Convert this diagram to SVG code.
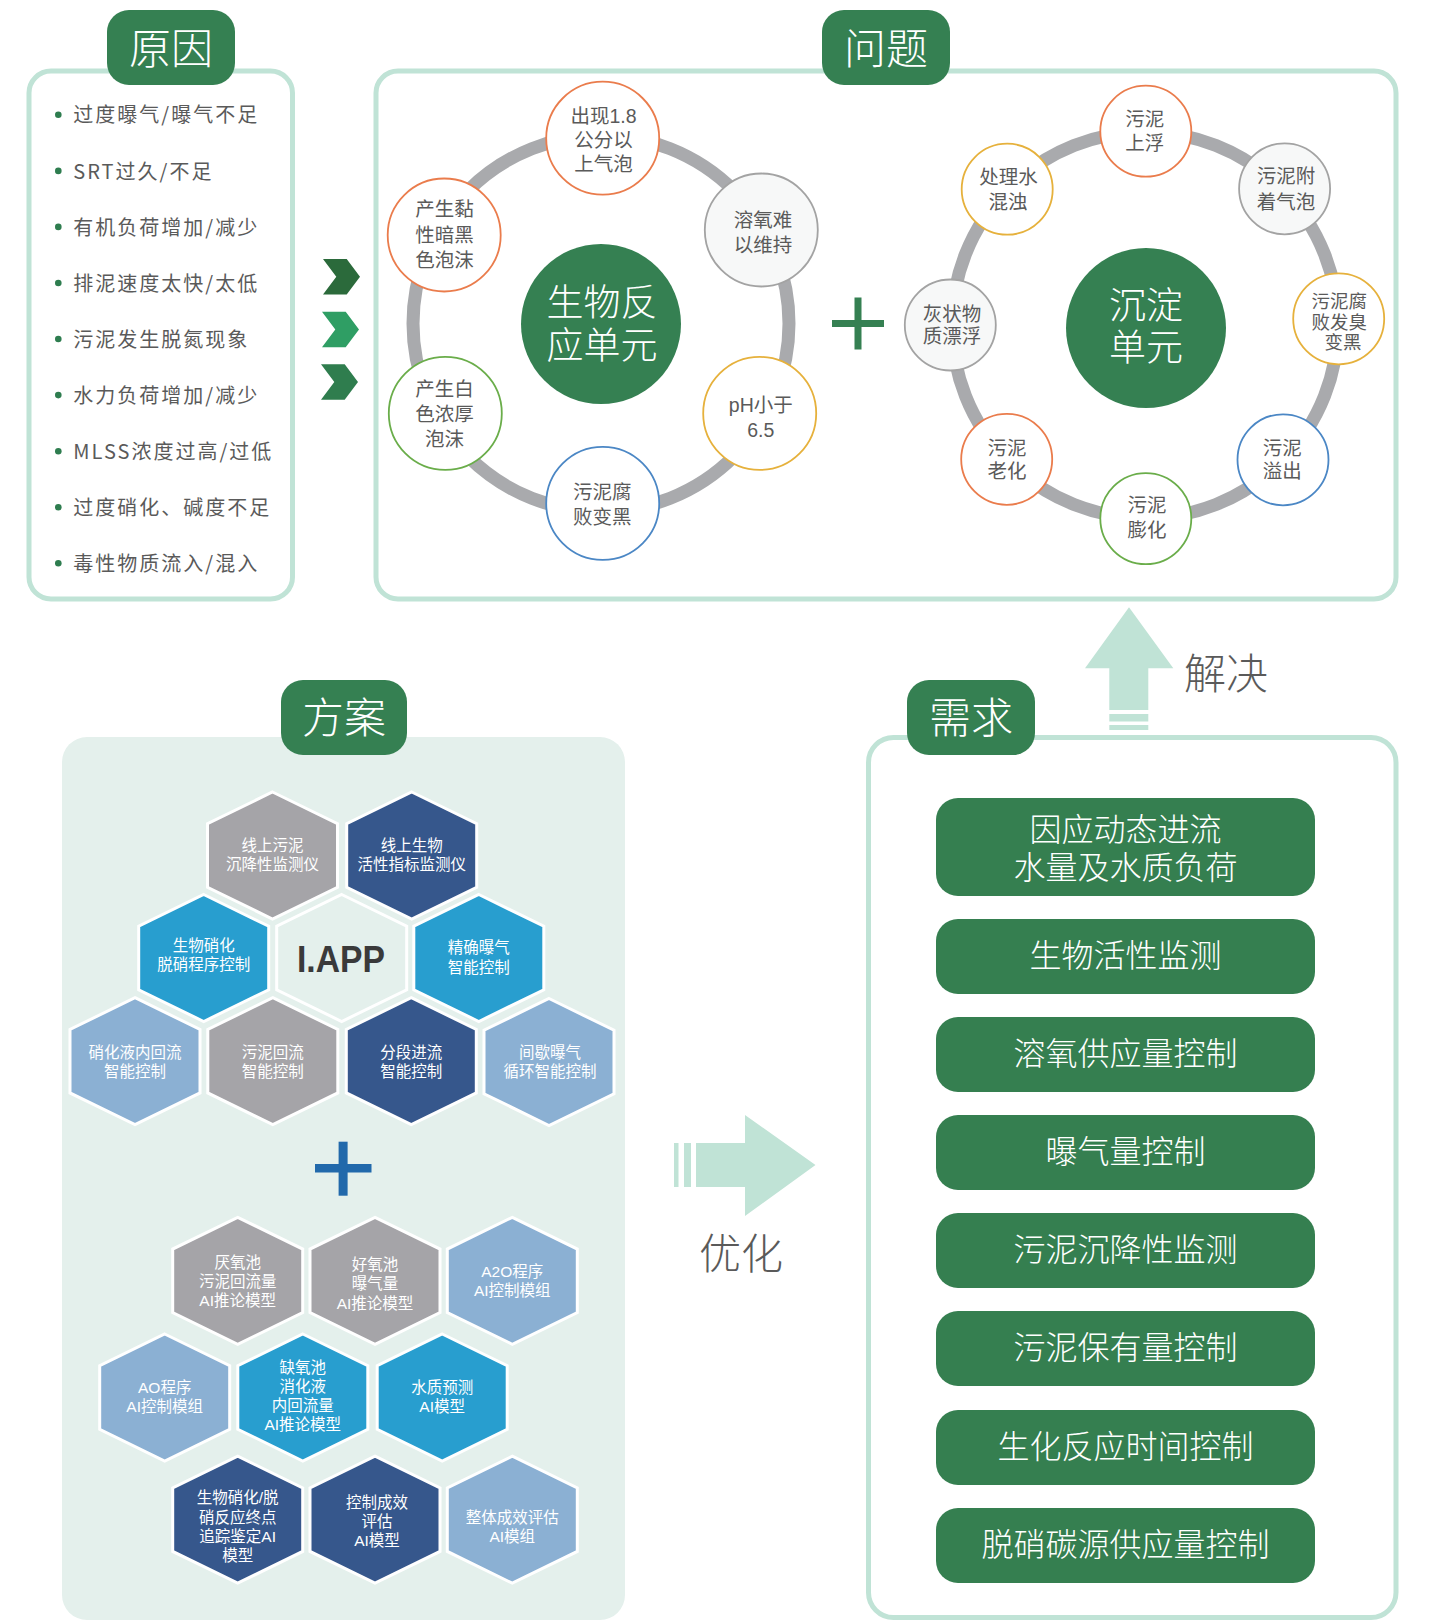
<svg xmlns="http://www.w3.org/2000/svg" xmlns:xlink="http://www.w3.org/1999/xlink" width="1440" height="1621" viewBox="0 0 1440 1621">
<style>
text{font-family:"Noto Sans CJK SC","Noto Sans",sans-serif;}
.frame{fill:#fff;stroke:#c0e3d6;stroke-width:5}
.tab{fill:#358052}
.tabt{font-size:42px;fill:#fff;font-weight:300;text-anchor:middle}
.bl{font-size:20px;fill:#5a5a5a;letter-spacing:2px}
.dot{fill:#2e7d4f}
.ring{fill:none;stroke:#a9aaad;stroke-width:13}
.core{fill:#358052}
text.coret,text.st,text.ht,text.bt{font-family:"Liberation Sans","Noto Sans CJK SC",sans-serif}
.coret{font-size:37px;fill:#fff;font-weight:300;text-anchor:middle}
.sat{fill:#fff;stroke-width:1.8}
.sat.g{fill:#f7f8f8}
.o{stroke:#ea7c4c}.gr{stroke:#a3a3a3}.y{stroke:#e6b13c}.b{stroke:#4b87c5}.gn{stroke:#6aad4a}
.st{font-size:19.5px;fill:#5a5a5a;text-anchor:middle}
.st.s3{font-size:18.5px}
.hx{stroke:#fff;stroke-width:3}
.h1{fill:#a5a4a8}.h2{fill:#36578c}.h3{fill:#289ecf}.h4{fill:#8bb0d3}.h0{fill:#e4f0ec}
.ht{font-size:15.5px;fill:#fff;text-anchor:middle}
.btn{fill:#357f50}
.bt{font-size:32px;fill:#fff;font-weight:300;text-anchor:middle}
.lbl{font-size:42px;fill:#5a5a5a;font-weight:300;text-anchor:middle}
.mint{fill:#c0e3d6}
</style>
<defs>
<polygon id="hex" points="0,-63.5 65,-31.75 65,31.75 0,63.5 -65,31.75 -65,-31.75"/>
<polygon id="chev" points="0,-17.7 23.7,-17.7 37,0 23.7,17.7 0,17.7 13.3,0"/>
</defs>

<rect x="62" y="737" width="563" height="883" rx="25" fill="#e4f0ec"/>

<g id="reasons">
<rect class="frame" x="29" y="71" width="263.5" height="528" rx="22"/>
<rect class="tab" x="107" y="10" width="128" height="75" rx="22"/>
<text class="tabt" x="171" y="63.5">原因</text>
<g>
<circle class="dot" cx="58.3" cy="114.8" r="3.3"/><text class="bl" x="73.3" y="122.4">过度曝气/曝气不足</text>
<circle class="dot" cx="58.3" cy="170.9" r="3.3"/><text class="bl" x="73.3" y="178.5">SRT过久/不足</text>
<circle class="dot" cx="58.3" cy="226.9" r="3.3"/><text class="bl" x="73.3" y="234.5">有机负荷增加/减少</text>
<circle class="dot" cx="58.3" cy="283" r="3.3"/><text class="bl" x="73.3" y="290.6">排泥速度太快/太低</text>
<circle class="dot" cx="58.3" cy="339" r="3.3"/><text class="bl" x="73.3" y="346.6">污泥发生脱氮现象</text>
<circle class="dot" cx="58.3" cy="395.1" r="3.3"/><text class="bl" x="73.3" y="402.7">水力负荷增加/减少</text>
<circle class="dot" cx="58.3" cy="451.2" r="3.3"/><text class="bl" x="73.3" y="458.8">MLSS浓度过高/过低</text>
<circle class="dot" cx="58.3" cy="507.2" r="3.3"/><text class="bl" x="73.3" y="514.8">过度硝化、碱度不足</text>
<circle class="dot" cx="58.3" cy="563.3" r="3.3"/><text class="bl" x="73.3" y="570.9">毒性物质流入/混入</text>
</g>
</g>

<g id="problems">
<rect class="frame" x="376" y="71" width="1020" height="528" rx="22"/>
<rect class="tab" x="822" y="10" width="128" height="75" rx="22"/>
<text class="tabt" x="886" y="63.5">问题</text>
</g>

<g id="connectors">
<use href="#chev" x="323" y="276.7" fill="#2b6a3b"/>
<use href="#chev" x="322" y="329.5" fill="#2f9e64"/>
<use href="#chev" x="321" y="382" fill="#2f7d4e"/>
<circle class="ring" cx="601" cy="323.5" r="188"/>
<circle class="ring" cx="1145" cy="325" r="193"/>
<rect x="832" y="320" width="52" height="7" fill="#358052"/>
<rect x="854.5" y="297.5" width="7" height="52" fill="#358052"/>
<polygon class="mint" points="1129,607.3 1173.3,668.3 1148.3,668.3 1148.3,710 1109.3,710 1109.3,668.3 1085,668.3"/>
<rect class="mint" x="1109.3" y="714" width="39" height="7.5"/>
<rect class="mint" x="1109.3" y="725" width="39" height="5"/>
<text class="lbl" x="1226" y="689">解决</text>
<polygon class="mint" points="815.5,1165 745,1216 745,1187 696,1187 696,1143 745,1143 745,1115"/>
<rect class="mint" x="674" y="1143" width="4.5" height="44"/>
<rect class="mint" x="684" y="1143" width="7" height="44"/>
<text class="lbl" x="741" y="1269">优化</text>
<rect x="315" y="1164" width="56.5" height="8.5" fill="#2169ab"/>
<rect x="338.6" y="1141.7" width="9" height="54" fill="#2169ab"/>
</g>

<g id="bio-unit">
<circle class="core" cx="601" cy="324" r="80"/>
<text class="coret" x="602" y="315.5">生物反<tspan x="602" dy="43.5">应单元</tspan></text>
</g>
<g id="bio-1"><circle class="sat o" cx="602.7" cy="138.2" r="56.5"/>
<text class="st" x="603.5" y="122.6">出现1.8<tspan x="603.5" dy="24">公分以</tspan><tspan x="603.5" dy="24">上气泡</tspan></text></g>
<g id="bio-2"><circle class="sat g gr" cx="761.3" cy="230" r="56.5"/>
<text class="st" x="763" y="227">溶氧难<tspan x="763" dy="25.4">以维持</tspan></text></g>
<g id="bio-3"><circle class="sat y" cx="759.7" cy="413.4" r="56.5"/>
<text class="st" x="760.8" y="411.6">pH小于<tspan x="760.8" dy="25">6.5</tspan></text></g>
<g id="bio-4"><circle class="sat b" cx="602.7" cy="503.4" r="56.5"/>
<text class="st" x="602.3" y="498.6">污泥腐<tspan x="602.3" dy="25">败变黑</tspan></text></g>
<g id="bio-5"><circle class="sat gn" cx="445.3" cy="413.4" r="56.5"/>
<text class="st" x="444.5" y="395.6">产生白<tspan x="444.5" dy="25.4">色浓厚</tspan><tspan x="444.5" dy="25.4">泡沫</tspan></text></g>
<g id="bio-6"><circle class="sat o" cx="444.2" cy="235" r="56.5"/>
<text class="st" x="444.6" y="216.1">产生黏<tspan x="444.6" dy="25.4">性暗黑</tspan><tspan x="444.6" dy="25.4">色泡沫</tspan></text></g>

<g id="settle-unit">
<circle class="core" cx="1146" cy="328" r="80"/>
<text class="coret" x="1146" y="319">沉淀<tspan x="1146" dy="41.5">单元</tspan></text>
</g>
<g id="set-1"><circle class="sat o" cx="1145.8" cy="131.2" r="45.5"/>
<text class="st" x="1144.8" y="126">污泥<tspan x="1144.8" dy="23.7">上浮</tspan></text></g>
<g id="set-2"><circle class="sat g gr" cx="1284.6" cy="188.8" r="45.5"/>
<text class="st" x="1286" y="183.4">污泥附<tspan x="1286" dy="25.6">着气泡</tspan></text></g>
<g id="set-3"><circle class="sat y" cx="1338.7" cy="318.8" r="45.5"/>
<text class="st s3" x="1339.3" y="307.8">污泥腐<tspan x="1339.3" dy="20.8">败发臭</tspan><tspan x="1343" dy="20.8">变黑</tspan></text></g>
<g id="set-4"><circle class="sat b" cx="1283" cy="459.8" r="45.5"/>
<text class="st" x="1282.3" y="454.6">污泥<tspan x="1282.3" dy="23.7">溢出</tspan></text></g>
<g id="set-5"><circle class="sat gn" cx="1145.8" cy="518.6" r="45.5"/>
<text class="st" x="1147" y="512">污泥<tspan x="1147" dy="24.9">膨化</tspan></text></g>
<g id="set-6"><circle class="sat o" cx="1006.7" cy="459.3" r="45.5"/>
<text class="st" x="1007" y="454.6">污泥<tspan x="1007" dy="23.7">老化</tspan></text></g>
<g id="set-7"><circle class="sat g gr" cx="950.3" cy="325" r="45.5"/>
<text class="st" x="952" y="320.5">灰状物<tspan x="952" dy="22">质漂浮</tspan></text></g>
<g id="set-8"><circle class="sat y" cx="1007.2" cy="189.2" r="45.5"/>
<text class="st" x="1008.5" y="183.9">处理水<tspan x="1008" dy="25">混浊</tspan></text></g>

<g id="solution">
<rect class="tab" x="281" y="680" width="126" height="75" rx="22"/>
<text class="tabt" x="344" y="733">方案</text>
</g>
<g id="hx-1"><use href="#hex" class="hx h1" x="272.5" y="855.5"/><text class="ht" x="272.5" y="850.9">线上污泥<tspan x="272.5" dy="19.3">沉降性监测仪</tspan></text></g>
<g id="hx-2"><use href="#hex" class="hx h2" x="411.7" y="855.5"/><text class="ht" x="411.7" y="850.9">线上生物<tspan x="411.7" dy="19.3">活性指标监测仪</tspan></text></g>
<g id="hx-3"><use href="#hex" class="hx h3" x="203.7" y="958"/><text class="ht" x="203.7" y="950.9">生物硝化<tspan x="203.7" dy="19.3">脱硝程序控制</tspan></text></g>
<g id="hx-iapp"><use href="#hex" class="hx h0" x="341.7" y="958"/><text x="341" y="971.7" text-anchor="middle" style="font-family:'Liberation Sans',Arial,sans-serif;font-weight:bold;font-size:36px;fill:#3a3a3a" textLength="88" lengthAdjust="spacingAndGlyphs">I.APP</text></g>
<g id="hx-4"><use href="#hex" class="hx h3" x="478.8" y="958"/><text class="ht" x="478.8" y="953.2">精确曝气<tspan x="478.8" dy="19.3">智能控制</tspan></text></g>
<g id="hx-5"><use href="#hex" class="hx h4" x="135" y="1061.2"/><text class="ht" x="135" y="1057.6">硝化液内回流<tspan x="135" dy="19.3">智能控制</tspan></text></g>
<g id="hx-6"><use href="#hex" class="hx h1" x="272.8" y="1061.2"/><text class="ht" x="272.8" y="1057.6">污泥回流<tspan x="272.8" dy="19.3">智能控制</tspan></text></g>
<g id="hx-7"><use href="#hex" class="hx h2" x="411.3" y="1061.2"/><text class="ht" x="411.3" y="1057.6">分段进流<tspan x="411.3" dy="19.3">智能控制</tspan></text></g>
<g id="hx-8"><use href="#hex" class="hx h4" x="549" y="1062"/><text class="ht" x="550" y="1057.6">间歇曝气<tspan x="550" dy="19.3">循环智能控制</tspan></text></g>

<g id="hx-9"><use href="#hex" class="hx h1" x="237.7" y="1280.8"/><text class="ht" x="237.7" y="1267.6">厌氧池<tspan x="237.7" dy="19.3">污泥回流量</tspan><tspan x="237.7" dy="19.3">AI推论模型</tspan></text></g>
<g id="hx-10"><use href="#hex" class="hx h1" x="375" y="1280.8"/><text class="ht" x="375" y="1270.1">好氧池<tspan x="375" dy="19.3">曝气量</tspan><tspan x="375" dy="19.3">AI推论模型</tspan></text></g>
<g id="hx-11"><use href="#hex" class="hx h4" x="512.3" y="1280.8"/><text class="ht" x="512.3" y="1276.6">A2O程序<tspan x="512.3" dy="19.3">AI控制模组</tspan></text></g>
<g id="hx-12"><use href="#hex" class="hx h4" x="164.7" y="1397.5"/><text class="ht" x="164.7" y="1392.6">AO程序<tspan x="164.7" dy="19.3">AI控制模组</tspan></text></g>
<g id="hx-13"><use href="#hex" class="hx h3" x="302.8" y="1397.5"/><text class="ht" x="302.8" y="1372.5">缺氧池<tspan x="302.8" dy="19.3">消化液</tspan><tspan x="302.8" dy="19.3">内回流量</tspan><tspan x="302.8" dy="19.3">AI推论模型</tspan></text></g>
<g id="hx-14"><use href="#hex" class="hx h3" x="442.2" y="1397.5"/><text class="ht" x="442.2" y="1392.6">水质预测<tspan x="442.2" dy="19.3">AI模型</tspan></text></g>
<g id="hx-15"><use href="#hex" class="hx h2" x="237.7" y="1519.7"/><text class="ht" x="237.7" y="1503.2">生物硝化/脱<tspan x="237.7" dy="19.3">硝反应终点</tspan><tspan x="237.7" dy="19.3">追踪鉴定AI</tspan><tspan x="237.7" dy="19.3">模型</tspan></text></g>
<g id="hx-16"><use href="#hex" class="hx h2" x="375" y="1519.7"/><text class="ht" x="377" y="1507.6">控制成效<tspan x="377" dy="19.3">评估</tspan><tspan x="377" dy="19.3">AI模型</tspan></text></g>
<g id="hx-17"><use href="#hex" class="hx h4" x="512.3" y="1519.7"/><text class="ht" x="512.3" y="1522.6">整体成效评估<tspan x="512.3" dy="19.3">AI模组</tspan></text></g>

<g id="needs">
<rect class="frame" x="868.5" y="737.5" width="527.5" height="880" rx="25"/>
<rect class="tab" x="907" y="680" width="128" height="75" rx="22"/>
<text class="tabt" x="971" y="733">需求</text>
</g>
<g id="need-1"><rect class="btn" x="936" y="798" width="379" height="98" rx="22"/><text class="bt" x="1125.5" y="840.5">因应动态进流<tspan x="1125.5" dy="38.4">水量及水质负荷</tspan></text></g>
<g id="need-2"><rect class="btn" x="936" y="919" width="379" height="75" rx="22"/><text class="bt" x="1125.5" y="966.5">生物活性监测</text></g>
<g id="need-3"><rect class="btn" x="936" y="1017" width="379" height="75" rx="22"/><text class="bt" x="1125.5" y="1064.5">溶氧供应量控制</text></g>
<g id="need-4"><rect class="btn" x="936" y="1115" width="379" height="75" rx="22"/><text class="bt" x="1125.5" y="1162.5">曝气量控制</text></g>
<g id="need-5"><rect class="btn" x="936" y="1213" width="379" height="75" rx="22"/><text class="bt" x="1125.5" y="1260.5">污泥沉降性监测</text></g>
<g id="need-6"><rect class="btn" x="936" y="1311" width="379" height="75" rx="22"/><text class="bt" x="1125.5" y="1358.5">污泥保有量控制</text></g>
<g id="need-7"><rect class="btn" x="936" y="1410" width="379" height="75" rx="22"/><text class="bt" x="1125.5" y="1457.5">生化反应时间控制</text></g>
<g id="need-8"><rect class="btn" x="936" y="1508" width="379" height="75" rx="22"/><text class="bt" x="1125.5" y="1555.5">脱硝碳源供应量控制</text></g>
</svg>
